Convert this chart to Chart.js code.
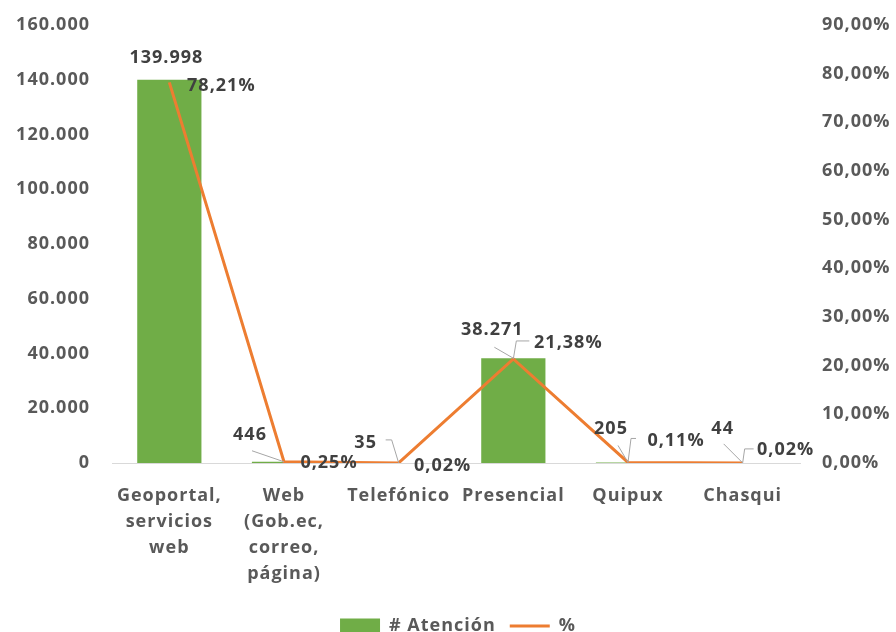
<!DOCTYPE html>
<html>
<head>
<meta charset="utf-8">
<script src="https://cdn.jsdelivr.net/npm/chart.js@4/dist/chart.umd.min.js"></script>
<style>
  html, body { margin: 0; padding: 0; background: #fff; }
  #wrap { width: 896px; height: 632px; }
</style>
</head>
<body>
<div id="wrap"><canvas id="chart"></canvas></div>
<script>
var categories = [
    ['Geoportal,', 'servicios', 'web'],
    ['Web', '(Gob.ec,', 'correo,', 'página)'],
    'Telefónico',
    'Presencial',
    'Quipux',
    'Chasqui'
];
var atencion = [139998, 446, 35, 38271, 205, 44];
var porcentaje = [78.21, 0.25, 0.02, 21.38, 0.11, 0.02];

var leftTicks = { min: 0, max: 160000, step: 20000 };
var rightTicks = { min: 0, max: 90, step: 10 };

// where the data labels sit, relative to their bar top / line point (px)
var barLabelPos = [[-3, -22], [-34, -27], [-33, -20], [-21, -28], [-17, -34], [-20, -34]];
var barLeaders = [null, [[-32, -11]], [[-13, -23], [-7, -23]], [[-19, -11]], [[-10, -17]], [[-19, -19]]];
var lineLabelPos = [[52, 3], [45, 1], [44, 3], [55, -16], [48, -22], [43, -13]];
var lineLeaders = [null, null, null, [[16, -18], [3, -18]], [[8, -24], [3, -24]], [[11, -14], [2, -14]]];

var FONT = "'Open Sans', sans-serif";

function fmtMiles(v) {
    return String(v).replace(/\B(?=(\d{3})+(?!\d))/g, '.');
}
function fmtPct(v) {
    return v.toFixed(2).replace('.', ',') + '%';
}

// the reference text is a bit spaced out
var spacingPlugin = {
    id: 'espaciado',
    beforeUpdate: function(chart) { chart.ctx.letterSpacing = '1px'; },
    beforeLayout: function(chart) { chart.ctx.letterSpacing = '1px'; },
    beforeDraw: function(chart) { chart.ctx.letterSpacing = '1px'; }
};

var labelPlugin = {
    id: 'etiquetas',
    afterDatasetsDraw: function(chart) {
        var ctx = chart.ctx;
        var draw = function(dsIndex, texts, pos, leaders) {
            var meta = chart.getDatasetMeta(dsIndex);
            meta.data.forEach(function(el, i) {
                var px = el.x, py = el.y;
                if (leaders[i]) {
                    ctx.save();
                    ctx.strokeStyle = '#a6a6a6';
                    ctx.lineWidth = 1;
                    ctx.beginPath();
                    ctx.moveTo(px + leaders[i][0][0], py + leaders[i][0][1]);
                    for (var k = 1; k < leaders[i].length; k++) {
                        ctx.lineTo(px + leaders[i][k][0], py + leaders[i][k][1]);
                    }
                    ctx.lineTo(px, py);
                    ctx.stroke();
                    ctx.restore();
                }
                ctx.save();
                ctx.font = 'bold 18px ' + FONT;
                ctx.fillStyle = '#404040';
                ctx.textAlign = 'center';
                ctx.textBaseline = 'middle';
                ctx.fillText(texts[i], px + pos[i][0], py + pos[i][1]);
                ctx.restore();
            });
        };
        draw(0, atencion.map(fmtMiles), barLabelPos, barLeaders);
        draw(1, porcentaje.map(fmtPct), lineLabelPos, lineLeaders);
    }
};

var ctx = document.getElementById('chart').getContext('2d');
var myChart = new Chart(ctx, {
    type: 'bar',
    data: {
        labels: categories,
        datasets: [{
            label: '# Atención',
            data: atencion,
            backgroundColor: '#70AD47',
            borderWidth: 0,
            barPercentage: 0.56,
            categoryPercentage: 1,
            yAxisID: 'y',
            pointStyle: 'rect',
            order: 1
        }, {
            type: 'line',
            label: '%',
            data: porcentaje,
            borderColor: '#ED7D31',
            backgroundColor: '#ED7D31',
            borderWidth: 3,
            pointRadius: 0,
            pointStyle: 'line',
            tension: 0,
            yAxisID: 'y1',
            order: 0
        }]
    },
    options: {
        responsive: true,
        maintainAspectRatio: false,
        animation: false,
        layout: { padding: { top: 25, bottom: -13, left: 0, right: -20 } },
        plugins: {
            tooltip: { enabled: false },
            legend: {
                position: 'bottom',
                labels: {
                    usePointStyle: true,
                    pointStyleWidth: 40,
                    boxHeight: 15,
                    padding: 14,
                    color: '#595959',
                    font: { family: FONT, size: 18, weight: 'bold' },
                    sort: function(a, b) { return a.datasetIndex - b.datasetIndex; }
                }
            }
        },
        scales: {
            x: {
                grid: { display: false, drawTicks: false },
                border: { display: true, color: '#d9d9d9', width: 1 },
                ticks: {
                    color: '#595959',
                    font: { family: FONT, size: 18, weight: 'bold', lineHeight: 1.45 },
                    padding: 20,
                    maxRotation: 0,
                    minRotation: 0,
                    autoSkip: false
                },
                afterFit: function(scale) { scale.height = 140; }
            },
            y: {
                position: 'left',
                min: leftTicks.min,
                max: leftTicks.max,
                grid: { display: false, drawTicks: false },
                border: { display: false },
                ticks: {
                    stepSize: leftTicks.step,
                    color: '#595959',
                    padding: 22,
                    font: { family: FONT, size: 18, weight: 'bold' },
                    callback: function(v) { return fmtMiles(v); }
                },
                afterFit: function(scale) {
                    scale.width = 112;
                    scale.paddingTop = 11;
                    scale.paddingBottom = 11;
                }
            },
            y1: {
                position: 'right',
                min: rightTicks.min,
                max: rightTicks.max,
                grid: { display: false, drawTicks: false },
                border: { display: false },
                ticks: {
                    stepSize: rightTicks.step,
                    color: '#595959',
                    padding: 22,
                    font: { family: FONT, size: 18, weight: 'bold' },
                    callback: function(v) { return fmtPct(v); }
                },
                afterFit: function(scale) {
                    scale.width = 116;
                    scale.paddingTop = 11;
                    scale.paddingBottom = 11;
                }
            }
        }
    },
    plugins: [spacingPlugin, labelPlugin]
});
</script>
</body>
</html>
